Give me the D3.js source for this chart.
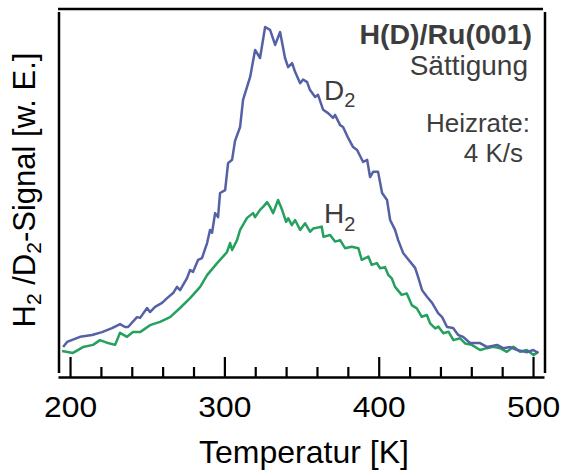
<!DOCTYPE html>
<html>
<head>
<meta charset="utf-8">
<script src="https://cdn.jsdelivr.net/npm/d3@7"></script>
<style>
  body { margin: 0; background: #fff; }
  svg { font-family: "Liberation Sans", Arial, sans-serif; }
</style>
</head>
<body>
<div id="chart"></div>
<script>
var svgWidth = 561;
var svgHeight = 471;

// D2 trace: temperature [K] and signal [arb. units]
var d2Temp = [195.5, 198.1, 206.5, 214.3, 220.7, 227.2, 232.4, 235.6, 237.6, 243.4,
  245.4, 249.9, 251.8, 255.1, 259.6, 262.9, 266.8, 269.3, 271.3, 275.8,
  277.8, 279.7, 283.0, 285.5, 288.8, 290.7, 292.0, 294.0, 295.9, 297.2,
  300.5, 302.4, 305.0, 306.9, 310.2, 312.1, 316.7, 319.9, 323.1, 326.4,
  329.6, 332.9, 336.1, 339.3, 341.3, 343.9, 345.8, 349.1, 351.0, 353.6,
  355.5, 358.8, 360.7, 364.0, 367.2, 370.4, 371.7, 375.0, 376.9, 380.2,
  383.4, 386.0, 389.9, 392.5, 394.4, 396.4, 399.6, 402.2, 405.4, 407.4,
  410.6, 412.6, 415.8, 418.4, 423.6, 425.5, 428.1, 431.4, 434.6, 438.5,
  441.1, 444.3, 448.2, 451.5, 454.7, 459.2, 465.7, 470.3, 476.7, 480.6,
  485.2, 489.7, 496.2, 500.1, 503.3];
var d2Signal = [8.2, 9.6, 11.0, 11.5, 12.3, 13.4, 14.5, 13.7, 13.7, 16.4,
  16.2, 18.9, 17.8, 19.2, 20.3, 21.6, 23.0, 24.7, 23.8, 27.1,
  29.3, 28.8, 32.1, 32.6, 36.7, 40.3, 39.5, 44.9, 43.8, 50.4,
  51.2, 58.6, 59.5, 64.7, 68.5, 75.9, 82.2, 89.6, 87.4, 95.9,
  95.1, 91.0, 94.5, 87.4, 84.9, 86.0, 83.6, 80.5, 81.5, 80.8,
  78.6, 76.7, 77.3, 73.2, 72.3, 71.0, 71.8, 69.0, 68.5, 65.5,
  63.0, 62.2, 58.9, 59.5, 54.8, 56.2, 56.2, 50.4, 48.5, 43.0,
  40.3, 37.5, 34.0, 32.6, 29.9, 27.4, 23.8, 21.9, 20.3, 17.5,
  16.4, 13.7, 13.4, 11.5, 11.0, 9.3, 9.3, 8.2, 8.8, 7.9,
  8.2, 7.4, 6.8, 7.4, 6.6];

// H2 trace
var h2Temp = [194.8, 201.9, 208.4, 214.9, 219.4, 224.6, 229.2, 232.4, 236.9, 240.8,
  245.4, 251.8, 258.3, 264.8, 271.3, 277.8, 284.3, 288.8, 295.3, 301.7,
  303.7, 305.0, 308.2, 310.2, 314.7, 318.6, 319.9, 323.1, 325.1, 327.7,
  329.6, 331.6, 334.8, 337.4, 340.0, 341.4, 343.7, 345.8, 349.1, 352.3,
  355.5, 357.7, 363.1, 364.2, 368.5, 371.7, 375.0, 378.2, 382.5, 386.8,
  389.0, 393.3, 395.5, 398.8, 400.9, 404.1, 406.3, 408.5, 410.6, 414.9,
  418.2, 421.4, 424.7, 427.9, 431.2, 433.3, 436.6, 438.7, 441.9, 445.2,
  448.4, 452.8, 456.0, 460.3, 465.7, 470.0, 474.3, 478.7, 483.0, 487.3,
  491.6, 496.0, 500.3, 503.5];
var h2Signal = [7.1, 6.6, 8.2, 8.8, 10.1, 9.3, 8.8, 12.1, 11.0, 12.3,
  12.3, 14.2, 15.1, 16.4, 18.9, 21.6, 24.7, 27.9, 31.2, 34.2,
  36.7, 34.8, 37.5, 40.3, 43.6, 44.9, 43.8, 45.8, 46.6, 47.9,
  46.6, 44.9, 48.5, 45.8, 42.5, 43.5, 41.6, 43.0, 40.3, 42.1,
  39.8, 40.7, 41.2, 38.4, 38.9, 37.1, 37.5, 35.3, 35.7, 35.3,
  32.1, 33.0, 30.7, 31.2, 29.8, 30.1, 27.9, 27.0, 24.7, 22.5,
  22.9, 19.7, 18.8, 16.5, 17.0, 14.7, 13.3, 13.8, 12.0, 12.4,
  10.1, 10.6, 9.2, 8.8, 7.4, 7.9, 8.3, 7.9, 6.9, 8.3,
  6.9, 7.4, 6.0, 6.9];

var majorTicks = [200, 300, 400, 500];
var minorTicks = [220, 240, 260, 280, 320, 340, 360, 380, 420, 440, 460, 480];

var svg = d3.select("#chart")
  .append("svg")
  .attr("width", svgWidth)
  .attr("height", svgHeight);

var x = d3.scaleLinear().domain([192.2, 507.1]).range([58, 544]);
var y = d3.scaleLinear().domain([0, 100]).range([377, 12]);

var d2Data = d2Temp.map((t, i) => [t, d2Signal[i]]);
var h2Data = h2Temp.map((t, i) => [t, h2Signal[i]]);

var line = d3.line()
  .x(d => x(d[0]))
  .y(d => y(d[1]));

// frame (top, left, right) drawn as separate strokes
var frame = svg.append("g").attr("stroke", "#000").attr("stroke-width", 2.5);
frame.append("line").attr("x1", 58).attr("x2", 543).attr("y1", 9).attr("y2", 9);
frame.append("line").attr("x1", 59).attr("x2", 59).attr("y1", 12).attr("y2", 373);
frame.append("line").attr("x1", 545).attr("x2", 545).attr("y1", 12).attr("y2", 373);

// curves
svg.append("path")
  .datum(h2Data)
  .attr("fill", "none")
  .attr("stroke", "#25a05e")
  .attr("stroke-width", 2.5)
  .attr("stroke-linejoin", "round")
  .attr("d", line);

svg.append("path")
  .datum(d2Data)
  .attr("fill", "none")
  .attr("stroke", "#5461a4")
  .attr("stroke-width", 2.5)
  .attr("stroke-linejoin", "round")
  .attr("d", line);

// minor ticks
svg.append("g")
  .attr("transform", `translate(0, ${y(0)})`)
  .call(d3.axisBottom(x).tickValues(minorTicks).tickSize(-10).tickFormat(""))
  .call(g => g.select(".domain").remove())
  .call(g => g.selectAll("line").attr("stroke-width", 2.2));

// major ticks + labels
var xAxis = svg.append("g")
  .attr("transform", `translate(0, ${y(0)})`)
  .call(d3.axisBottom(x).tickValues(majorTicks).tickSizeInner(-20).tickSizeOuter(0));

xAxis.select(".domain").attr("stroke-width", 2.6);
xAxis.selectAll("line").attr("stroke-width", 2.2);
xAxis.selectAll("text")
  .attr("y", 40)
  .attr("dy", 0)
  .attr("fill", "#000")
  .attr("font-size", 30)
  .attr("font-family", "Liberation Sans, Arial, sans-serif")
  .attr("transform", "scale(1.06,1)");

// axis titles
svg.append("text")
  .attr("x", 304)
  .attr("y", 463)
  .attr("text-anchor", "middle")
  .attr("font-size", 32)
  .text("Temperatur [K]");

var yTitle = svg.append("text")
  .attr("transform", "translate(35, 190) rotate(-90)")
  .attr("text-anchor", "middle")
  .attr("font-size", 31);
yTitle.append("tspan").text("H");
yTitle.append("tspan").attr("font-size", 21).attr("dy", 6).text("2");
yTitle.append("tspan").attr("dy", -6).text(" /D");
yTitle.append("tspan").attr("font-size", 21).attr("dy", 6).text("2");
yTitle.append("tspan").attr("dy", -6).text("-Signal [w. E.]");

// annotations
var note = svg.append("g").attr("fill", "#3d3d3d");
note.append("text")
  .attr("x", 532).attr("y", 44)
  .attr("text-anchor", "end")
  .attr("font-size", 28.5)
  .attr("font-weight", "bold")
  .text("H(D)/Ru(001)");
note.append("text")
  .attr("x", 528).attr("y", 75)
  .attr("text-anchor", "end")
  .attr("font-size", 28)
  .text("Sättigung");
note.append("text")
  .attr("x", 530).attr("y", 132)
  .attr("text-anchor", "end")
  .attr("font-size", 26)
  .text("Heizrate:");
note.append("text")
  .attr("x", 523).attr("y", 162)
  .attr("text-anchor", "end")
  .attr("font-size", 26)
  .text("4 K/s");

var d2Label = note.append("text").attr("x", 324).attr("y", 100).attr("font-size", 28);
d2Label.append("tspan").text("D");
d2Label.append("tspan").attr("font-size", 20).attr("dy", 7).text("2");

var h2Label = note.append("text").attr("x", 324).attr("y", 223).attr("font-size", 28);
h2Label.append("tspan").text("H");
h2Label.append("tspan").attr("font-size", 20).attr("dy", 8).text("2");
</script>
</body>
</html>
